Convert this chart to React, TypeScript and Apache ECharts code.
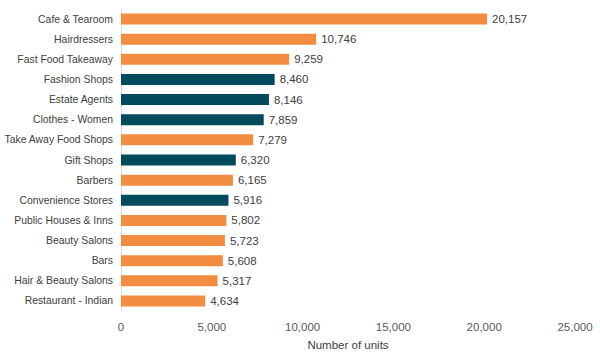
import React, { useEffect, useRef } from "react";
import * as echarts from "echarts";

const categories = [
  "Cafe & Tearoom",
  "Hairdressers",
  "Fast Food Takeaway",
  "Fashion Shops",
  "Estate Agents",
  "Clothes - Women",
  "Take Away Food Shops",
  "Gift Shops",
  "Barbers",
  "Convenience Stores",
  "Public Houses & Inns",
  "Beauty Salons",
  "Bars",
  "Hair & Beauty Salons",
  "Restaurant - Indian",
];
const values = [20157, 10746, 9259, 8460, 8146, 7859, 7279, 6320, 6165, 5916, 5802, 5723, 5608, 5317, 4634];
const highlighted = [false, false, false, true, true, true, false, true, false, true, false, false, false, false, false];

const ORANGE = "#F28C40";
const TEAL = "#024B5E";

export default function App() {
  const ref = useRef<HTMLDivElement>(null);
  useEffect(() => {
    if (!ref.current) return;
    const chart = echarts.init(ref.current, undefined, { renderer: "svg" });
    const font = "Helvetica, 'Liberation Sans', Arial, sans-serif";
    chart.setOption({
      animation: false,
      grid: { left: 121, right: 25, top: 9, bottom: 49, containLabel: false, outerBoundsMode: "none" },
      xAxis: {
        type: "value",
        min: 0,
        max: 25000,
        interval: 5000,
        name: "Number of units",
        nameLocation: "middle",
        nameGap: 28,
        nameTextStyle: { color: "#404040", fontSize: 11.5, fontFamily: font },
        axisLine: { show: false },
        axisTick: { show: false },
        splitLine: { show: false },
        axisLabel: {
          color: "#595959",
          fontSize: 11.5,
          fontFamily: font,
          margin: 10,
          formatter: (v: number) => v.toLocaleString("en-US"),
        },
      },
      yAxis: {
        type: "category",
        data: categories,
        inverse: true,
        axisLine: { show: true, lineStyle: { color: "#D9D9D9" } },
        axisTick: { show: false },
        axisLabel: { color: "#404040", fontSize: 10.4, fontFamily: font, margin: 8 },
      },
      series: [
        {
          type: "bar",
          barWidth: 11,
          data: values.map((v, i) => ({
            value: v,
            itemStyle: { color: highlighted[i] ? TEAL : ORANGE },
          })),
          label: {
            show: true,
            position: "right",
            distance: 5,
            color: "#404040",
            fontSize: 11.5,
            fontFamily: font,
            formatter: (p: any) => Number(p.value).toLocaleString("en-US"),
          },
        },
      ],
    });
    return () => chart.dispose();
  }, []);
  return <div ref={ref} style={{ width: 600, height: 360, position: "absolute", left: 0, top: 0 }} />;
}
